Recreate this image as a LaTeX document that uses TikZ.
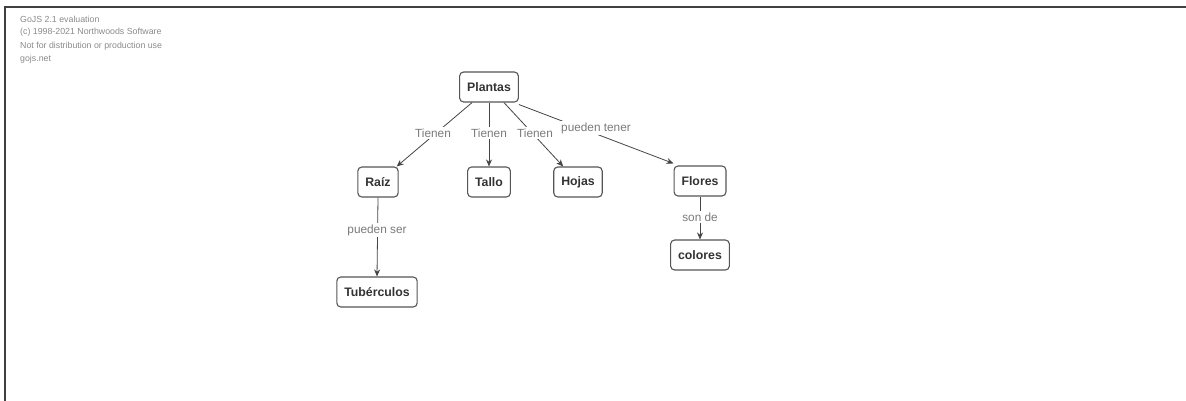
\documentclass[tikz,border=0pt]{standalone}
\usepackage{fontspec}
\setmainfont{Liberation Sans}
\usetikzlibrary{arrows.meta}
\definecolor{boxline}{HTML}{555555}
\definecolor{linkline}{HTML}{444444}
\definecolor{labeltext}{HTML}{7A7A7A}
\definecolor{marktext}{HTML}{8A8A8A}
\begin{document}
\begin{tikzpicture}[x=1pt,y=-1pt,
  concept/.style={draw=boxline,line width=1.1pt,rounded corners=4pt,fill=white,
    font=\fontsize{12.3}{14}\selectfont\bfseries,text=black!80,
    inner xsep=7.5pt,minimum height=30pt},
  link/.style={draw=linkline,line width=0.8pt,-{Stealth[length=7pt,width=6pt]}},
  linklabel/.style={font=\fontsize{11.8}{14}\selectfont,text=labeltext,fill=white,
    inner sep=1.5pt},
  notice/.style={font=\fontsize{8.8}{10}\selectfont,text=marktext,anchor=west,inner sep=0pt}]
\useasboundingbox (0,0) rectangle (1186,401);
% frame of the canvas
\draw[line width=2pt,color=black!75] (5,401) -- (5,7) -- (1186,7);
% evaluation notice
\node[notice] (m1) at (20,19) {GoJS 2.1 evaluation};
\node[notice] (m2) at (20,32) {(c) 1998-2021 Northwoods Software};
\node[notice] (m3) at (20,46) {Not for distribution or production use};
\node[notice] (m4) at (20,59) {gojs.net};
% concepts
\node[concept] (plantas) at (489,87) {Plantas};
\node[concept] (raiz) at (378,182) {Raíz};
\node[concept] (tallo) at (489,182) {Tallo};
\node[concept] (hojas) at (578,182) {Hojas};
\node[concept] (flores) at (700,181) {Flores};
\node[concept] (colores) at (700,255) {colores};
\node[concept] (tuber) at (377,292) {Tubérculos};
% links
\draw[link] ([xshift=13pt]plantas.south west) -- ([xshift=-2pt]raiz.north east);
\draw[link] (plantas.south) -- (tallo.north);
\draw[link] ([xshift=-15pt]plantas.south east) -- ([xshift=10pt]hojas.north west);
\draw[link] ([yshift=-2pt]plantas.south east) -- ([yshift=2pt]flores.north west);
\draw[link] (raiz.south) -- (tuber.north);
\draw[link] (flores.south) -- (colores.north);
% link labels
\node[linklabel] (l1) at (433,133) {Tienen};
\node[linklabel] (l2) at (489,133) {Tienen};
\node[linklabel] (l3) at (535,133) {Tienen};
\node[linklabel] (l4) at (596,128) {pueden tener};
\node[linklabel] (l5) at (377,230) {pueden ser};
\node[linklabel] (l6) at (700,217) {son de};
\end{tikzpicture}
\end{document}
